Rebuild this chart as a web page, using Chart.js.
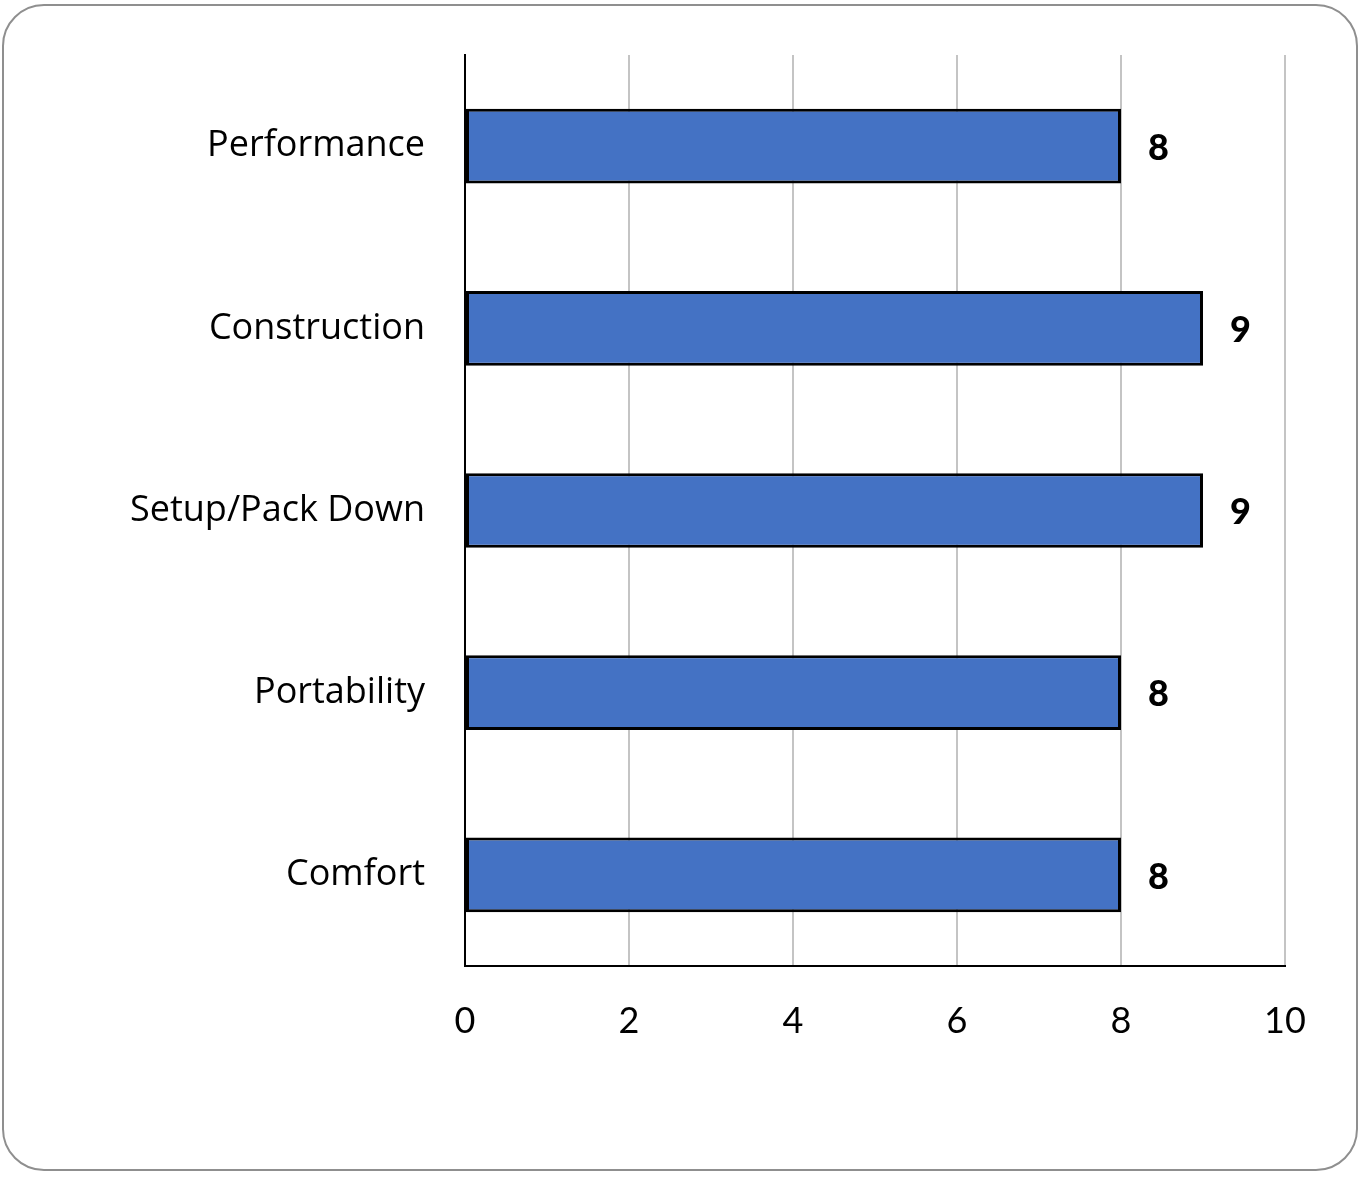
<!DOCTYPE html>
<html>
<head>
<meta charset="utf-8">
<script src="https://cdn.jsdelivr.net/npm/chart.js@4.4.1/dist/chart.umd.min.js"></script>
<style>
  html, body { margin: 0; padding: 0; background: #fff; }
  #frame {
    position: absolute; left: 2px; top: 4px;
    width: 1352px; height: 1163px;
    border: 2px solid #8f8f8f; border-radius: 42px;
  }
  #wrap { position: absolute; left: 0; top: 0; width: 1365px; height: 1177px; }
</style>
</head>
<body>
<div id="frame"></div>
<div id="wrap"><canvas id="scores"></canvas></div>
<script>
// chart values
const categories = ['Performance', 'Construction', 'Setup/Pack Down', 'Portability', 'Comfort']
const scores = [8, 9, 9, 8, 8]
const tickValues = [0, 2, 4, 6, 8, 10]

const FONT = 'Lato'
const LABEL_FONT = 'Open Sans'

// write the score just right of each bar
const barValues = {
    id: 'barValues',
    afterDatasetsDraw(chart) {
        const ctx = chart.ctx
        const meta = chart.getDatasetMeta(0)
        ctx.save()
        ctx.font = '900 36px ' + FONT
        ctx.fillStyle = '#000'
        ctx.textAlign = 'left'
        ctx.textBaseline = 'middle'
        meta.data.forEach((bar, i) => {
            ctx.fillText(scores[i], bar.x + 27, bar.y + 2)
        })
        ctx.restore()
    }
}

const ctx = document.querySelector('#scores')
const scoreChart = new Chart(ctx, {
    type: 'bar',
    data: {
        labels: categories,
        datasets: [
            {
                label: 'Score',
                data: scores,
                backgroundColor: '#4472C4',
                borderColor: '#000',
                borderWidth: 3,
                borderSkipped: false,
                categoryPercentage: 0.41,
                barPercentage: 1,
            },
        ]
    },
    options: {
        indexAxis: 'y',
        responsive: true,
        maintainAspectRatio: false,
        animation: false,
        layout: { padding: { top: 55, right: 80, left: 0, bottom: 0 } },
        plugins: {
            legend: { display: false },
            tooltip: { enabled: false },
        },
        scales: {
            x: {
                min: 0,
                max: 10,
                afterBuildTicks: (scale) => {
                    scale.ticks = tickValues.map(v => ({ value: v }))
                },
                afterFit: (scale) => { scale.height = 211 },
                grid: { color: '#c4c4c4', lineWidth: 2, drawTicks: false },
                border: { display: true, color: '#000', width: 2 },
                ticks: {
                    color: '#000',
                    padding: 34,
                    font: { family: FONT, size: 36 },
                },
            },
            y: {
                afterFit: (scale) => {
                    scale.width = 465
                    // tick padding would otherwise push the plot down
                    scale.paddingTop = 0
                    scale.paddingBottom = 0
                },
                grid: { display: false, drawTicks: false },
                border: { display: true, color: '#000', width: 2 },
                ticks: {
                    color: '#000',
                    padding: 40,
                    font: { family: LABEL_FONT, size: 36 },
                },
            },
        },
    },
    plugins: [barValues],
})
</script>
</body>
</html>
